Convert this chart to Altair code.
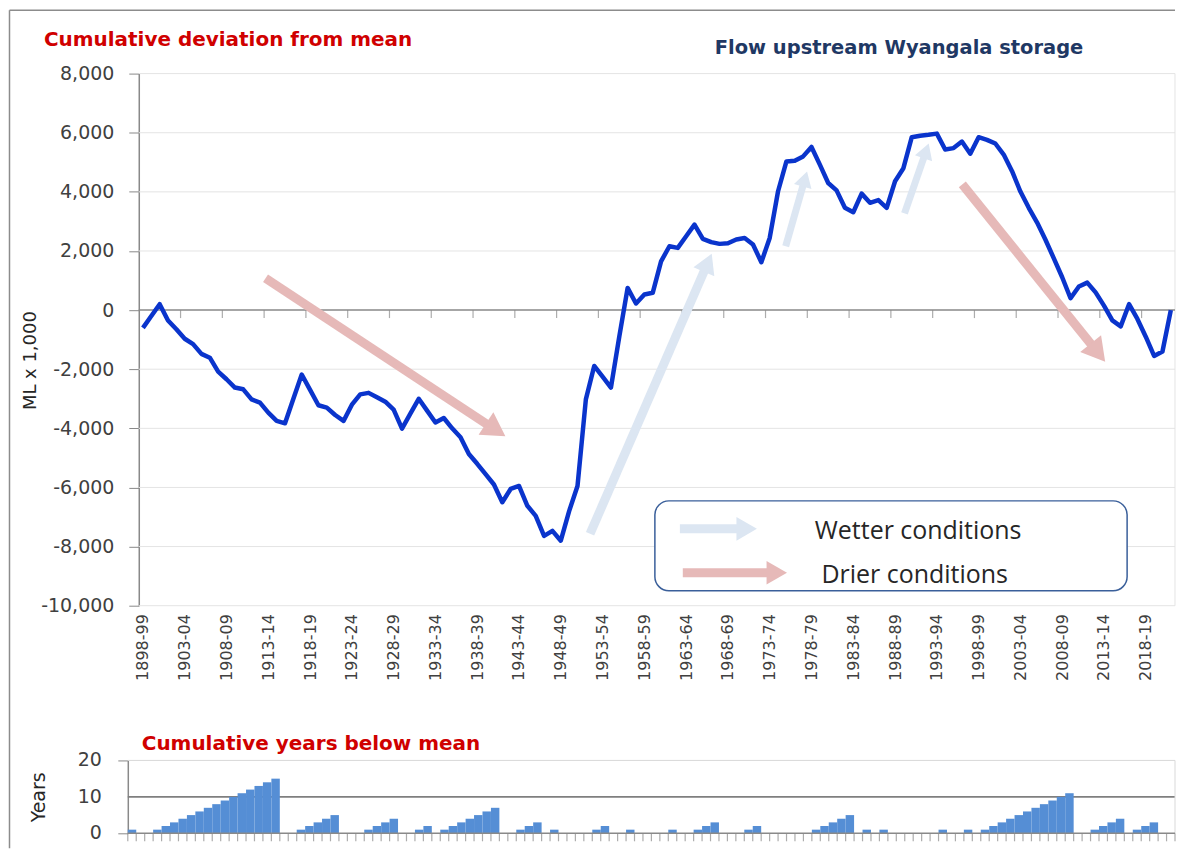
import math
import json
import altair as alt
import pandas as pd

# ---------------- data ----------------
seasons = [f"{y}-{str(y + 1)[-2:]}" for y in range(1898, 2022)]

cum_dev = [
    -600, -200, 200, -350, -650, -970, -1150, -1480, -1610, -2080,
    -2340, -2620, -2680, -3020, -3130, -3470, -3750, -3830, -3000, -2180,
    -2700, -3220, -3300, -3550, -3750, -3200, -2850, -2800, -2950, -3100,
    -3370, -4010, -3500, -3000, -3400, -3800, -3650, -4000, -4300, -4870,
    -5200, -5550, -5900, -6500, -6050, -5950, -6620, -6960, -7640, -7470,
    -7800, -6800, -5950, -3020, -1890, -2250, -2620, -900, 750, 225,
    530, 585, 1650, 2160, 2105, 2500, 2890, 2410, 2300, 2240,
    2260, 2390, 2440, 2220, 1620, 2440, 4020, 5030, 5055, 5200,
    5520, 4920, 4300, 4050, 3460, 3310, 3940, 3630, 3720, 3460,
    4360, 4800, 5850, 5900, 5930, 5970, 5430, 5480, 5700, 5290,
    5850, 5760, 5635, 5260, 4700, 4010, 3460, 2960, 2380, 1750,
    1110, 400, 800, 930, 600, 150, -350, -550, 200, -300,
    -900, -1550, -1400, 0,
]

years_below = [
    1, 0, 0, 1, 2, 3, 4, 5, 6, 7, 8, 9, 10, 11, 12, 13, 14, 15, 0, 0,
    1, 2, 3, 4, 5, 0, 0, 0, 1, 2, 3, 4, 0, 0, 1, 2, 0, 1, 2, 3,
    4, 5, 6, 7, 0, 0, 1, 2, 3, 0, 1, 0, 0, 0, 0, 1, 2, 0, 0, 1,
    0, 0, 0, 0, 1, 0, 0, 1, 2, 3, 0, 0, 0, 1, 2, 0, 0, 0, 0, 0,
    0, 1, 2, 3, 4, 5, 0, 1, 0, 1, 0, 0, 0, 0, 0, 0, 1, 0, 0, 1,
    0, 1, 2, 3, 4, 5, 6, 7, 8, 9, 10, 11, 0, 0, 1, 2, 3, 4, 0, 1,
    2, 3, 0, 0,
]

y_ticks_main = [-10000, -8000, -6000, -4000, -2000, 0, 2000, 4000, 6000, 8000]
y_ticks_years = [0, 10, 20]
label_step = 5

title_main = "Cumulative deviation from mean"
title_flow = "Flow upstream Wyangala storage"
title_years = "Cumulative years below mean"
y_title_main = "ML x 1,000"
y_title_years = "Years"
legend_labels = ["Wetter conditions", "Drier conditions"]

# annotation arrows: start (index, value) -> tip (index, value)
arrow_starts_x = [14.67, 98.05, 53.5, 76.91, 91.13]
arrow_starts_y = [1077, 4251, -7568, 2158, 3272]
arrow_tips_x = [43.68, 115.38, 68.19, 79.54, 94.11]
arrow_tips_y = [-4327, -1827, 1989, 4758, 5704]
arrow_kind = ["drier", "drier", "wetter", "wetter", "wetter"]

# legend box and entries (index/value space)
legend_box_x = [61.26, 117.77]
legend_box_y = [-6454, -9493]
legend_arrow_x = [[64.25, 73.8], [64.6, 77.4]]
legend_arrow_y = [-7400, -8886]
legend_kind = ["wetter", "drier"]
legend_text_x = [80.4, 81.2]
legend_text_y = [-7466, -8952]

# ---------------- styles ----------------
W, H, H2 = 1038, 533, 73
n = len(seasons)
ymin, ymax = y_ticks_main[0], y_ticks_main[-1]
RED = "#D00000"
NAVY = "#1F3864"
LINE = "#0A34CC"
BAR = "#558ED5"
AXIS = "#898989"
GRID = "#E4E4E4"
PINK = "#E6B9B8"
LBLUE = "#DCE6F2"
FONT = "DejaVu Sans"
kind_style = {"drier": PINK, "wetter": LBLUE}

xs = alt.Scale(domain=[-0.5, n - 0.5], nice=False, zero=False)
ys = alt.Scale(domain=[ymin, ymax], nice=False, zero=False)


def to_px(i, v):
    return ((i + 0.5) / n * W, (ymax - v) / (ymax - ymin) * H)


def to_data(px, py):
    return (px / W * n - 0.5, ymax - py / H * (ymax - ymin))


def build_arrow(x0, y0, x1, y1, color, width, size):
    p0 = to_px(x0, y0)
    p1 = to_px(x1, y1)
    dx, dy = p1[0] - p0[0], p1[1] - p0[1]
    L = math.hypot(dx, dy)
    ux, uy = dx / L, dy / L
    back = 0.55 * math.sqrt(size)
    c = (p1[0] - ux * back, p1[1] - uy * back)
    cd = to_data(*c)
    ang = math.degrees(math.atan2(ux, -uy)) % 360
    shaft = {"x": x0, "y": y0, "x2": cd[0], "y2": cd[1], "color": color, "w": width}
    head = {"x": cd[0], "y": cd[1], "angle": ang, "color": color, "size": size}
    return shaft, head


plot_sh, plot_hd = [], []
sizes = [720, 720, 520, 330, 330]
widths = [9, 9, 9, 7, 7]
for k in range(len(arrow_kind)):
    s, h = build_arrow(arrow_starts_x[k], arrow_starts_y[k], arrow_tips_x[k], arrow_tips_y[k],
                       kind_style[arrow_kind[k]], widths[k], sizes[k])
    plot_sh.append(s)
    plot_hd.append(h)
leg_sh, leg_hd = [], []
for k, kind in enumerate(legend_kind):
    s, h = build_arrow(legend_arrow_x[k][0], legend_arrow_y[k], legend_arrow_x[k][1], legend_arrow_y[k],
                       kind_style[kind], 9, 560)
    leg_sh.append(s)
    leg_hd.append(h)

df = pd.DataFrame({"i": list(range(n)), "season": seasons, "dev": cum_dev, "below": years_below})
df["left"] = df["i"] - 0.5
df["right"] = df["i"] + 0.5
df["base"] = 0

label_expr = json.dumps(seasons) + "[datum.value]"
y_label_expr = "(datum.value < 0 ? '-' : '') + format(abs(datum.value), ',')"


def sh_layer(rows):
    return alt.Chart(pd.DataFrame(rows)).mark_rule(strokeCap="butt").encode(
        x=alt.X("x:Q", scale=xs), y=alt.Y("y:Q", scale=ys),
        x2="x2:Q", y2="y2:Q", color=alt.Color("color:N", scale=None),
        strokeWidth=alt.StrokeWidth("w:Q", scale=None))


def hd_layer(rows):
    return alt.Chart(pd.DataFrame(rows)).mark_point(shape="triangle-up", filled=True, opacity=1).encode(
        x=alt.X("x:Q", scale=xs), y=alt.Y("y:Q", scale=ys),
        angle=alt.Angle("angle:Q", scale=None), size=alt.Size("size:Q", scale=None),
        color=alt.Color("color:N", scale=None))


# ---------------- main chart ----------------
# first layer carries the axes (invisible points)
axes_main = alt.Chart(df).mark_point(opacity=0, size=1).encode(
    x=alt.X("i:Q", scale=xs, axis=alt.Axis(
        values=list(range(0, n, label_step)), labelExpr=label_expr, labelAngle=-90,
        ticks=False, tickSize=0, domain=False, grid=False, labelPadding=8, labelFontSize=16,
        labelColor="#404040", labelFont=FONT, labelOverlap=False, labelFlush=False,
        labelBound=False, title=None)),
    y=alt.Y("dev:Q", scale=ys, axis=alt.Axis(
        values=y_ticks_main, labelExpr=y_label_expr, grid=False, domainColor=AXIS,
        domainWidth=1.5, tickColor=AXIS, tickSize=10, labelPadding=15, labelFontSize=19,
        labelColor="#404040", labelFont=FONT, labelOverlap=False, title=y_title_main,
        titleFont=FONT, titleFontSize=18, titleFontWeight="normal", titleColor="#262626",
        titleAngle=270, titleX=-108, titleY=287, titleAlign="center", titleBaseline="middle")))

grid_df = pd.DataFrame({"v": [t for t in y_ticks_main if t != 0]})
grid_df["a"] = -0.5
grid_df["b"] = n - 0.5
grid = alt.Chart(grid_df).mark_rule(color=GRID, strokeWidth=1).encode(
    x=alt.X("a:Q", scale=xs), x2="b:Q", y=alt.Y("v:Q", scale=ys))

rborder = alt.Chart(pd.DataFrame({"a": [n - 0.5], "lo": [ymin], "hi": [ymax]})).mark_rule(
    color=GRID, strokeWidth=1).encode(
    x=alt.X("a:Q", scale=xs), y=alt.Y("lo:Q", scale=ys), y2="hi:Q")

zero = alt.Chart(pd.DataFrame({"a": [-0.5], "b": [n - 0.5], "v": [0]})).mark_rule(
    color=AXIS, strokeWidth=1.5).encode(
    x=alt.X("a:Q", scale=xs), x2="b:Q", y=alt.Y("v:Q", scale=ys))

zt_df = pd.DataFrame({"a": [k * label_step - 0.5 for k in range(1, n // label_step + 1)]})
zt_df["v"] = 0
zticks = alt.Chart(zt_df).mark_tick(orient="vertical", size=8, thickness=1.2, yOffset=4,
                                    color=AXIS).encode(
    x=alt.X("a:Q", scale=xs), y=alt.Y("v:Q", scale=ys))

line = alt.Chart(df).mark_line(color=LINE, strokeWidth=4.5, strokeJoin="round").encode(
    x=alt.X("i:Q", scale=xs), y=alt.Y("dev:Q", scale=ys))

box = alt.Chart(pd.DataFrame({"x": [legend_box_x[0]], "x2": [legend_box_x[1]],
                              "y": [legend_box_y[0]], "y2": [legend_box_y[1]]})).mark_rect(
    fill="white", stroke="#3A5F9A", strokeWidth=1.5, cornerRadius=14).encode(
    x=alt.X("x:Q", scale=xs), x2="x2:Q",
    y=alt.Y("y:Q", scale=ys), y2="y2:Q")

leg_text = alt.Chart(pd.DataFrame({"x": legend_text_x, "y": legend_text_y, "t": legend_labels})).mark_text(
    align="left", baseline="middle", font="Open Sans", fontSize=25, color="#262626").encode(
    x=alt.X("x:Q", scale=xs), y=alt.Y("y:Q", scale=ys), text="t:N")

t_main = alt.Chart(pd.DataFrame({"t": [title_main]})).mark_text(
    align="left", baseline="middle", font=FONT, fontSize=20, fontWeight="bold", color=RED).encode(
    x=alt.value(-95), y=alt.value(-34), text="t:N")
t_flow = alt.Chart(pd.DataFrame({"t": [title_flow]})).mark_text(
    align="left", baseline="middle", font=FONT, fontSize=19.5, fontWeight="bold", color=NAVY).encode(
    x=alt.value(577), y=alt.value(-26), text="t:N")

frame_df = pd.DataFrame({"k": [0]})
frame_left = alt.Chart(frame_df).mark_rule(color="#8C8C8C", strokeWidth=1.5).encode(
    x=alt.value(-129.5), y=alt.value(-63.5), y2=alt.value(776))
frame_top = alt.Chart(frame_df).mark_rule(color="#8C8C8C", strokeWidth=1.5).encode(
    x=alt.value(-129.5), x2=alt.value(W), y=alt.value(-63.5))

main = alt.layer(axes_main, grid, rborder, zero, zticks, sh_layer(plot_sh), hd_layer(plot_hd),
                 line, box, sh_layer(leg_sh), hd_layer(leg_hd), leg_text, t_main, t_flow,
                 frame_left, frame_top).properties(width=W, height=H)

# ---------------- bottom chart ----------------
wb = (W + 11) / n
xb = alt.Scale(domain=[-0.5 + 11 / wb, n - 0.5], nice=False, zero=False)
yb = alt.Scale(domain=[y_ticks_years[0], y_ticks_years[-1]], nice=False, zero=False)

axes_bottom = alt.Chart(df).mark_point(opacity=0, size=1).encode(
    x=alt.X("i:Q", scale=xb, axis=None),
    y=alt.Y("below:Q", scale=yb, axis=alt.Axis(
        values=y_ticks_years, grid=False, offset=11, domainColor=AXIS, domainWidth=1.5,
        tickColor=AXIS, tickSize=10, labels=False,
        title=y_title_years, titleFont=FONT, titleFontSize=19,
        titleFontWeight="normal", titleColor="#262626", titleAngle=270, titleX=-89,
        titleAlign="center", titleBaseline="middle")))

# tick labels of the years axis drawn as text so none get dropped
yl_df = pd.DataFrame({"v": y_ticks_years, "t": [str(v) for v in y_ticks_years]})
b_ylabels = alt.Chart(yl_df).mark_text(align="right", baseline="middle", font=FONT,
                                       fontSize=19, color="#404040").encode(
    x=alt.value(-37), y=alt.Y("v:Q", scale=yb), text="t:N")

b_lines_df = pd.DataFrame({"v": [y_ticks_years[1], y_ticks_years[2]],
                           "c": ["#7F7F7F", "#D9D9D9"], "w": [1.6, 1.0]})
b_lines_df["a"] = -0.5
b_lines_df["b"] = n - 0.5
b_lines = alt.Chart(b_lines_df).mark_rule().encode(
    x=alt.X("a:Q", scale=xb, axis=None), x2="b:Q", y=alt.Y("v:Q", scale=yb),
    color=alt.Color("c:N", scale=None), strokeWidth=alt.StrokeWidth("w:Q", scale=None))
b_rborder = alt.Chart(pd.DataFrame({"a": [n - 0.5], "v": [0], "hi": [20]})).mark_rule(
    color="#D9D9D9", strokeWidth=1).encode(
    x=alt.X("a:Q", scale=xb, axis=None), y=alt.Y("v:Q", scale=yb), y2="hi:Q")

bars = alt.Chart(df).mark_rect(color=BAR).encode(
    x=alt.X("left:Q", scale=xb, axis=None), x2="right:Q",
    y=alt.Y("below:Q", scale=yb), y2="base:Q")

b_axis = alt.Chart(pd.DataFrame({"a": [-0.5], "b": [n - 0.5], "v": [0]})).mark_rule(
    color=AXIS, strokeWidth=1.5).encode(
    x=alt.X("a:Q", scale=xb, axis=None), x2="b:Q", y=alt.Y("v:Q", scale=yb))
bt_df = pd.DataFrame({"a": [k - 0.5 for k in range(n + 1)]})
bt_df["v"] = 0
b_ticks = alt.Chart(bt_df).mark_tick(orient="vertical", size=8, thickness=1.2, yOffset=4,
                                     color=AXIS).encode(
    x=alt.X("a:Q", scale=xb, axis=None), y=alt.Y("v:Q", scale=yb))
t_years = alt.Chart(pd.DataFrame({"t": [title_years]})).mark_text(
    align="left", baseline="middle", font=FONT, fontSize=20, fontWeight="bold", color=RED).encode(
    x=alt.value(3), y=alt.value(-16), text="t:N")

bottom = alt.layer(axes_bottom, b_lines, b_rborder, bars, b_axis, b_ticks, b_ylabels, t_years
                   ).properties(width=W, height=H2)

chart = alt.vconcat(main, bottom, spacing=155, bounds="flush", padding=0,
                    background="white").configure_view(strokeWidth=0, stroke=None)

chart.save("out.html", embed_options={"renderer": "svg", "actions": False})
